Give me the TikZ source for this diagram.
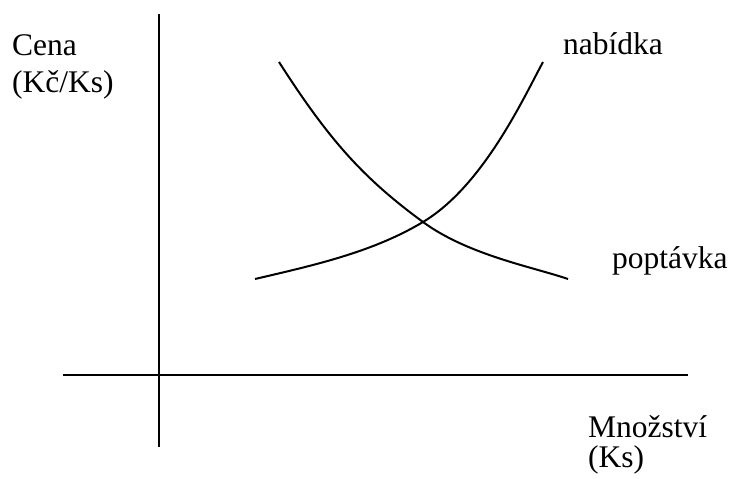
\documentclass[tikz,border=0pt]{standalone}
\usepackage{fontspec}
\setmainfont{Liberation Serif}
\begin{document}
\begin{tikzpicture}[x=1pt,y=-1pt,
  curve/.style={line width=2pt},
  axis/.style={line width=2pt},
  lbl/.style={anchor=base west,inner sep=0pt,font=\fontsize{31.5}{37}\selectfont}]
\useasboundingbox (0,0) rectangle (732,479);
% axes
\coordinate (ytop) at (159,14);
\coordinate (ybot) at (159,447);
\coordinate (xl) at (63,375);
\coordinate (xr) at (688,375);
\draw[axis] (ytop) -- (ybot);
\draw[axis] (xl) -- (xr);
% curve end points
\coordinate (eq) at (423,222);
\coordinate (dA) at (279,62);
\coordinate (dB) at (568,279);
\coordinate (sA) at (255,279);
\coordinate (sB) at (543,62);
% demand
\draw[curve] (dA) .. controls (329,140) and (363,178) .. (eq)
             .. controls (468,255) and (533,267) .. (dB);
% supply
\draw[curve] (sA) .. controls (315,265) and (373,252) .. (eq)
             .. controls (483,186) and (523,99) .. (sB);
% labels
\node[lbl] (cena) at (12,55) {Cena};
\node[lbl] (kcks) at (12,92) {(Kč/Ks)};
\node[lbl] (nab) at (563,54) {nabídka};
\node[lbl] (pop) at (612,268) {poptávka};
\node[lbl] (mn) at (588,437) {Množství};
\node[lbl] (ks) at (588,467) {(Ks)};
\end{tikzpicture}
\end{document}
